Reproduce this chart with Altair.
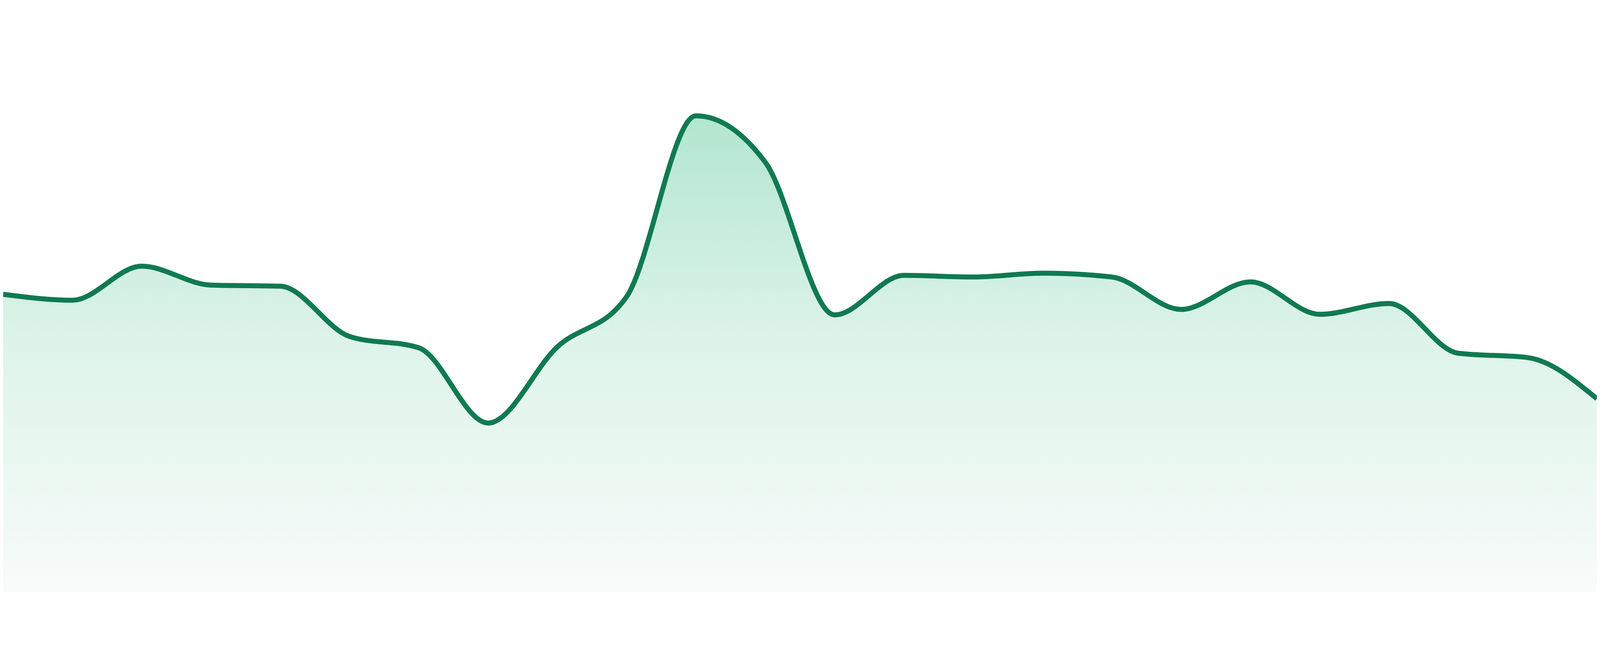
import altair as alt
import pandas as pd

# Values (index positions along the x axis)
points = list(range(24))
values = [55.0, 53.9, 60.2, 56.7, 56.5, 47.2, 45.1, 31.2, 45.3, 54.6, 88.0, 79.4,
          51.2, 58.5, 58.2, 58.9, 58.2, 52.2, 57.3, 51.3, 53.3, 44.1, 43.3, 35.7]

df = pd.DataFrame({"idx": points, "value": values})

line_color = "#107a50"
gradient = alt.Gradient(
    gradient="linear",
    stops=[
        alt.GradientStop(color="#b2e6cf", offset=0),
        alt.GradientStop(color="#def4ea", offset=0.49),
        alt.GradientStop(color="#f8fbfa", offset=1),
    ],
    x1=0, x2=0, y1=0, y2=1,
)

x_enc = alt.X("idx:Q", axis=None, scale=alt.Scale(domain=[0, 23], nice=False, zero=False))
y_enc = alt.Y("value:Q", axis=None, scale=alt.Scale(domain=[0, 100], nice=False))

area = alt.Chart(df).mark_area(interpolate="monotone", color=gradient, clip=True).encode(
    x=x_enc, y=y_enc
)
line = alt.Chart(df).mark_line(
    interpolate="monotone", color=line_color, strokeWidth=15, clip=True
).encode(x=x_enc, y=y_enc)

chart = (
    alt.layer(area, line)
    .properties(
        width=4784,
        height=1664,
        padding={"left": 0, "top": 0, "right": 0, "bottom": 40},
        autosize=alt.AutoSizeParams(type="fit", contains="padding"),
        background="white",
    )
    .configure_view(stroke=None)
)

chart.save("out.html", embed_options={"renderer": "svg", "actions": False})
